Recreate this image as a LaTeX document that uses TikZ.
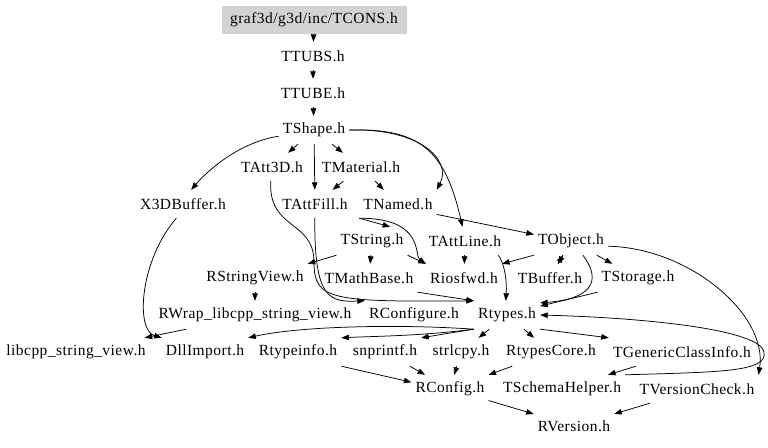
\documentclass[tikz,border=0pt]{standalone}
\usepackage{fontspec}
\usepackage{tikz}
\usetikzlibrary{arrows.meta}
\newfontfamily\hdrfam{Liberation Serif}[LetterSpace=3]
\newcommand{\depfont}{\hdrfam\fontsize{15.5}{18}\selectfont}
\definecolor{rootgray}{HTML}{D3D3D3}

\begin{document}
\begin{tikzpicture}[x=1pt,y=-1pt,
    hfile/.style={font=\depfont, inner xsep=4pt, inner ysep=0pt, minimum height=28pt},
    dep/.style={-{Triangle[length=7.5pt,width=5.5pt]}, line width=0.75pt}]
        \useasboundingbox (0,0) rectangle (768,447);
        \node[hfile, fill=rootgray, minimum width=185pt] (tcons) at (314,20) {graf3d/g3d/inc/TCONS.h};
        \node[hfile] (ttubs) at (313,56) {TTUBS.h};
        \node[hfile] (ttube) at (313,93) {TTUBE.h};
        \node[hfile] (tshape) at (314,130) {TShape.h};
        \node[hfile] (tatt3d) at (272,167) {TAtt3D.h};
        \node[hfile] (tmaterial) at (361,167) {TMaterial.h};
        \node[hfile] (x3dbuffer) at (183,204) {X3DBuffer.h};
        \node[hfile] (tattfill) at (315,204) {TAttFill.h};
        \node[hfile] (tnamed) at (398,204) {TNamed.h};
        \node[hfile] (tstring) at (372,241) {TString.h};
        \node[hfile] (tattline) at (465,241) {TAttLine.h};
        \node[hfile] (tobject) at (571,241) {TObject.h};
        \node[hfile] (rstringview) at (255,278) {RStringView.h};
        \node[hfile] (tmathbase) at (369,278) {TMathBase.h};
        \node[hfile] (riosfwd) at (464,278) {Riosfwd.h};
        \node[hfile] (tbuffer) at (550,278) {TBuffer.h};
        \node[hfile] (tstorage) at (638,278) {TStorage.h};
        \node[hfile] (rwrap) at (255,315) {RWrap\_libcpp\_string\_view.h};
        \node[hfile] (rconfigure) at (414,315) {RConfigure.h};
        \node[hfile] (rtypes) at (507,315) {Rtypes.h};
        \node[hfile] (libcpp) at (76,352) {libcpp\_string\_view.h};
        \node[hfile] (dllimport) at (205,352) {DllImport.h};
        \node[hfile] (rtypeinfo) at (298,352) {Rtypeinfo.h};
        \node[hfile] (snprintf) at (385,352) {snprintf.h};
        \node[hfile] (strlcpy) at (461,352) {strlcpy.h};
        \node[hfile] (rtypescore) at (551,352) {RtypesCore.h};
        \node[hfile] (tgenericclassinfo) at (682,352) {TGenericClassInfo.h};
        \node[hfile] (rconfig) at (450,389) {RConfig.h};
        \node[hfile] (tschemahelper) at (562,389) {TSchemaHelper.h};
        \node[hfile] (tversioncheck) at (697,389) {TVersionCheck.h};
        \node[hfile] (rversion) at (574,426) {RVersion.h};

        \draw[dep] (tcons) -- (ttubs);
        \draw[dep] (ttubs) -- (ttube);
        \draw[dep] (ttube) -- (tshape);
        \draw[dep] (tshape.190) .. controls (240,142) and (208,170) .. (x3dbuffer.60);
        \draw[dep] (tshape) -- (tatt3d);
        \draw[dep] (tshape) -- (tmaterial);
        \draw[dep] (tshape) -- (tattfill);
        \draw[dep] (tshape.east) .. controls (420,128) and (452,160) .. (tnamed.north east);
        \draw[dep] (tshape.east) .. controls (420,128) and (445,150) .. (tattline.100);
        \draw[dep] (tmaterial) -- (tattfill);
        \draw[dep] (tmaterial) -- (tnamed);
        \draw[dep] (tatt3d.-95) .. controls (268,230) and (314,220) .. (314,262) .. controls (314,300) and (330,302) .. (rtypes.north west);
        \draw[dep] (tattfill) .. controls (314,300) and (330,302) .. (rconfigure.north west);
        \draw[dep] (tnamed.south west) -- (tstring.38);
        \draw[dep] (tnamed.south west) .. controls (425,218) and (414,256) .. (riosfwd.north west);
        \draw[dep] (tnamed.-15) -- (tobject.170);
        \draw[dep] (tstring.south west) -- (rstringview.north east);
        \draw[dep] (tstring) -- (tmathbase);
        \draw[dep] (tstring.south east) -- (riosfwd.north west);
        \draw[dep] (tattline) -- (riosfwd);
        \draw[dep] (tattline.-23) .. controls (505,265) and (507,282) .. (rtypes.95);
        \draw[dep] (tobject.south west) -- (riosfwd.north east);
        \draw[dep] (tobject) -- (tbuffer);
        \draw[dep] (tbuffer) -- (tobject);
        \draw[dep] (tobject) -- (tstorage);
        \draw[dep] (tobject.-50) .. controls (598,275) and (600,298) .. (rtypes.20);
        \draw[dep] (tstorage.south west) -- (rtypes.15);
        \draw[dep] (tobject.-8) .. controls (690,248) and (768,315) .. (tversioncheck.north east);
        \draw[dep] (tschemahelper.north east) .. controls (720,372) and (768,372) .. (764,352) .. controls (760,330) and (650,318) .. (rtypes.east);
        \draw[dep] (rtypes.south east) -- (tgenericclassinfo.north west);
        \draw[dep] (rtypes) -- (rtypescore);
        \draw[dep] (rtypes) -- (strlcpy);
        \draw[dep] (rtypes.south west) .. controls (450,333) .. (snprintf.north east);
        \draw[dep] (rtypes.south west) .. controls (420,336) and (380,336) .. (rtypeinfo.north east);
        \draw[dep] (rtypes.south west) .. controls (400,324) and (300,326) .. (dllimport.north east);
        \draw[dep] (rstringview) -- (rwrap);
        \draw[dep] (rwrap) -- (libcpp);
        \draw[dep] (x3dbuffer.-115) .. controls (140,260) and (135,330) .. (dllimport.north west);
        \draw[dep] (tmathbase.south east) -- (rtypes.north west);
        \draw[dep] (rtypescore) -- (rconfig);
        \draw[dep] (strlcpy) -- (rconfig);
        \draw[dep] (snprintf) -- (rconfig);
        \draw[dep] (rtypeinfo.south east) -- (rconfig.170);
        \draw[dep] (tgenericclassinfo) -- (tschemahelper);
        \draw[dep] (rconfig) -- (rversion);
        \draw[dep] (tversioncheck) -- (rversion);
        \end{tikzpicture}
\end{document}
